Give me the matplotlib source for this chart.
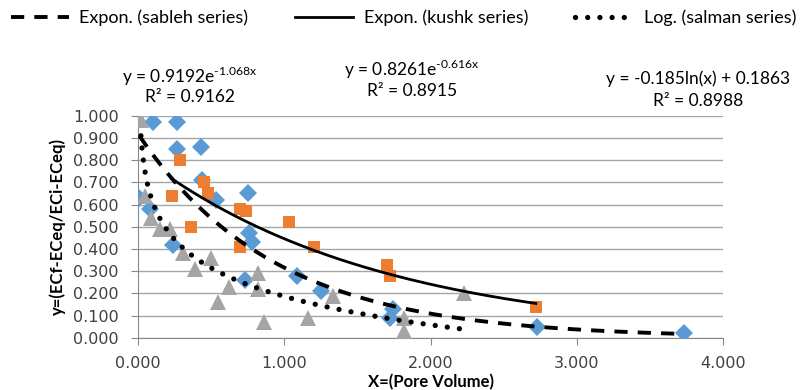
import numpy as np
import matplotlib
matplotlib.use("Agg")
import matplotlib.pyplot as plt
from matplotlib.lines import Line2D

plt.rcParams['font.family'] = ['Lato', 'DejaVu Sans']
plt.rcParams['mathtext.fontset'] = 'custom'
plt.rcParams['mathtext.rm'] = 'Lato'

# sableh series (blue diamonds)
sableh_x = [0.01, 0.08, 0.10, 0.27, 0.27, 0.43, 0.44, 0.53, 0.75, 0.24, 0.76, 0.78,
            0.73, 1.09, 1.25, 1.74, 1.72, 2.73, 3.73]
sableh_y = [0.63, 0.58, 0.97, 0.97, 0.85, 0.86, 0.71, 0.62, 0.65, 0.42, 0.47, 0.43,
            0.26, 0.28, 0.21, 0.13, 0.09, 0.05, 0.02]
# kushk series (orange squares)
kushk_x = [0.23, 0.29, 0.36, 0.45, 0.48, 0.70, 0.74, 0.70, 1.03, 1.20, 1.70, 1.72, 2.72]
kushk_y = [0.64, 0.80, 0.50, 0.70, 0.65, 0.58, 0.57, 0.41, 0.52, 0.41, 0.33, 0.28, 0.14]
# salman series (grey triangles)
salman_x = [0.02, 0.05, 0.09, 0.15, 0.22, 0.31, 0.39, 0.50, 0.55, 0.62, 0.82, 0.82,
            0.86, 1.16, 1.33, 1.82, 1.82, 2.23]
salman_y = [0.98, 0.64, 0.54, 0.49, 0.49, 0.38, 0.31, 0.36, 0.16, 0.23, 0.29, 0.22,
            0.07, 0.09, 0.19, 0.09, 0.03, 0.20]

# trend line coefficients (from the equations on the chart)
sab_a, sab_b = 0.9192, -1.068
kus_a, kus_b = 0.8261, -0.616
sal_a, sal_c = -0.185, 0.1863

blue = '#5B9BD5'
orange = '#ED7D31'
grey = '#A5A5A5'

dash_style = dict(color='black', lw=2.8, dashes=(3.4, 2.6))
solid_style = dict(color='black', lw=2)
dot_style = dict(color='black', lw=3.8, linestyle=(0, (0.01, 2.3)), dash_capstyle='round')

fig = plt.figure(figsize=(8.07, 3.90), dpi=100)
ax = fig.add_axes([0.171, 0.134, 0.725, 0.569])

ax.plot(sableh_x, sableh_y, 'D', color=blue, ms=9.5, mew=0, zorder=3)
ax.plot(kushk_x, kushk_y, 's', color=orange, ms=8.5, mew=0, zorder=3)
ax.plot(salman_x, salman_y, '^', color=grey, ms=11, mew=0, zorder=3)

xs = np.linspace(min(sableh_x), max(sableh_x), 200)
ax.plot(xs, sab_a * np.exp(sab_b * xs), zorder=4, **dash_style)
xk = np.linspace(min(kushk_x), max(kushk_x), 200)
ax.plot(xk, kus_a * np.exp(kus_b * xk), zorder=4, **solid_style)
xl = np.linspace(min(salman_x), max(salman_x), 200)
ax.plot(xl, sal_a * np.log(xl) + sal_c, zorder=4, **dot_style)

ax.set_xlim(0, 4)
ax.set_ylim(0, 1)
ax.set_xticks(np.arange(0, 4.01, 1))
ax.set_yticks(np.arange(0, 1.001, 0.1))
ax.xaxis.set_major_formatter(matplotlib.ticker.FormatStrFormatter('%.3f'))
ax.yaxis.set_major_formatter(matplotlib.ticker.FormatStrFormatter('%.3f'))
ax.grid(axis='y', color='#A6A6A6', lw=1)
ax.set_axisbelow(True)
for s in ['top', 'right']:
    ax.spines[s].set_visible(False)
for s in ['left', 'bottom']:
    ax.spines[s].set_color('#898989')
ax.tick_params(axis='both', colors='#898989', labelcolor='#404040', length=5,
               labelsize=11.5)
for lab in ax.get_xticklabels() + ax.get_yticklabels():
    lab.set_family('DejaVu Sans')
ax.tick_params(axis='x', pad=8.5)
ax.tick_params(axis='y', pad=9)

ax.set_xlabel('X=(Pore Volume)', fontsize=12, fontweight='bold', labelpad=2)
ax.set_ylabel('y=(ECf-ECeq/ECi-ECeq)', fontsize=12, fontweight='bold', labelpad=5)

# equations
eq_kw = dict(ha='center', va='center', fontsize=12.5)
fig.text(190 / 807, 1 - 76 / 390, r'y = 0.9192e$^{\text{-1.068x}}$', **eq_kw)
fig.text(190 / 807, 1 - 97 / 390, 'R² = 0.9162', **eq_kw)
fig.text(412 / 807, 1 - 69 / 390, r'y = 0.8261e$^{\text{-0.616x}}$', **eq_kw)
fig.text(412 / 807, 1 - 91 / 390, 'R² = 0.8915', **eq_kw)
fig.text(698 / 807, 1 - 79 / 390, 'y = -0.185ln(x) + 0.1863', **eq_kw)
fig.text(698 / 807, 1 - 101 / 390, 'R² = 0.8988', **eq_kw)

handles = [Line2D([], [], **dash_style), Line2D([], [], **solid_style),
           Line2D([], [], **dot_style)]
labels = ['Expon. (sableh series)', 'Expon. (kushk series)', 'Log. (salman series)']
fig.legend(handles, labels, loc='center', bbox_to_anchor=(0.5, 1 - 18 / 390), ncol=3,
           frameon=False, fontsize=13, handlelength=3.2, columnspacing=2.6,
           handletextpad=0.6)

fig.savefig('out.png', dpi=100)
